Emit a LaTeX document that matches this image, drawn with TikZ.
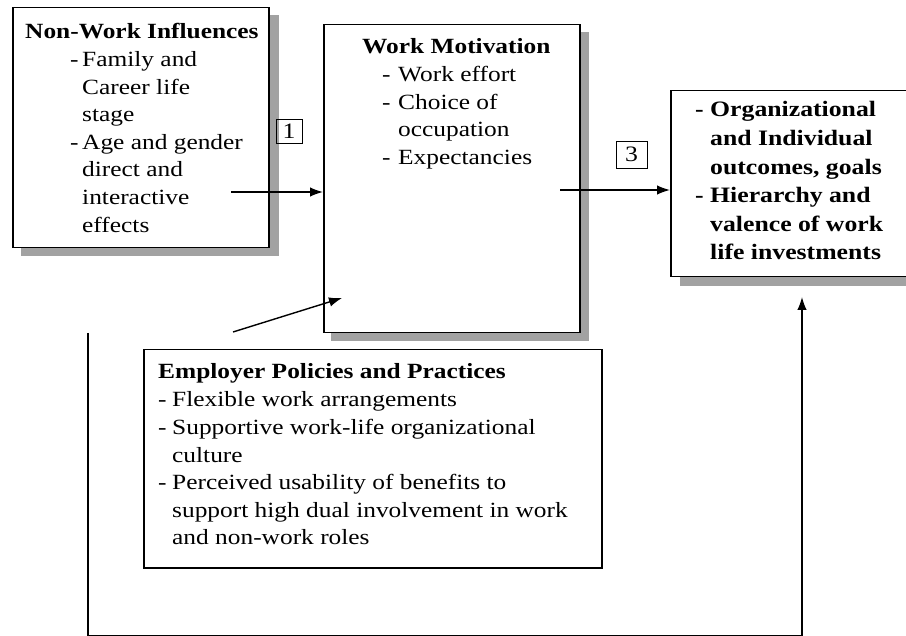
\documentclass[tikz,border=0pt]{standalone}
\usepackage{fontspec}
\setmainfont{Liberation Serif}[FakeStretch=1.17]
\usetikzlibrary{arrows.meta}
\definecolor{shd}{HTML}{A2A2A2}
\newcommand{\mydash}[1]{\makebox[#1][l]{-}}
\newcommand{\myind}[1]{\hspace*{#1}}
\begin{document}
\begin{tikzpicture}[x=1pt,y=-1pt,
  box/.style={draw, line width=1.5pt, fill=white, inner sep=0pt, anchor=north west},
  lbl/.style={draw, line width=0.9pt, inner sep=0pt, font=\fontsize{22}{26}\selectfont},
  txt/.style={anchor=base west, inner sep=0pt, font=\fontsize{21.7}{27.6}\selectfont},
  conn/.style={line width=1.4pt, -{Latex[length=13pt,width=9.5pt]}},
]
\path[use as bounding box] (0,0) rectangle (906,636);
\clip (0,0) rectangle (906,636);

% boxes with shadows
\node[box, minimum width=256pt, minimum height=240pt] (nw) at (12,7) {};
\fill[shd] ([xshift=9pt,yshift=-8pt]nw.south west) rectangle ([xshift=9pt,yshift=-8pt]nw.north east);
\node[box, minimum width=256pt, minimum height=240pt] at (12,7) {};

\node[box, minimum width=256pt, minimum height=308pt] (wm) at (323,24) {};
\fill[shd] ([xshift=8pt,yshift=-8pt]wm.south west) rectangle ([xshift=8pt,yshift=-8pt]wm.north east);
\node[box, minimum width=256pt, minimum height=308pt] at (323,24) {};

\node[box, minimum width=250pt, minimum height=186pt] (rb) at (670,90) {};
\fill[shd] ([xshift=10pt,yshift=-9pt]rb.south west) rectangle ([xshift=10pt,yshift=-9pt]rb.north east);
\node[box, minimum width=250pt, minimum height=186pt] at (670,90) {};

\node[box, minimum width=458pt, minimum height=218pt] (ep) at (143,349) {};

% texts
\node[txt] (nwT) at (25,39) {\textbf{Non-Work Influences}};
\node[txt] (nwI) at (70,66.5) {\parbox[t]{300pt}{\raggedright
\mydash{12pt}Family and\\
\myind{12pt}Career life\\
\myind{12pt}stage\\
\mydash{12pt}Age and gender\\
\myind{12pt}direct and\\
\myind{12pt}interactive\\
\myind{12pt}effects}};

\node[txt] (wmT) at (362,54) {\textbf{Work Motivation}};
\node[txt] (wmI) at (382,81.5) {\parbox[t]{300pt}{\raggedright
\mydash{16pt}Work effort\\
\mydash{16pt}Choice of\\
\myind{16pt}occupation\\
\mydash{16pt}Expectancies}};

\node[txt, font=\fontsize{22}{28.6}\selectfont\bfseries] (rbI) at (695,117) {\parbox[t]{300pt}{\raggedright
\mydash{15pt}Organizational\\
\myind{15pt}and Individual\\
\myind{15pt}outcomes, goals\\
\mydash{15pt}Hierarchy and\\
\myind{15pt}valence of work\\
\myind{15pt}life investments}};

\node[txt] (epT) at (158,379) {\textbf{Employer Policies and Practices}};
\node[txt] (epI) at (158,407) {\parbox[t]{500pt}{\raggedright
\mydash{14pt}Flexible work arrangements\\
\mydash{14pt}Supportive work-life organizational\\
\myind{14pt}culture\\
\mydash{14pt}Perceived usability of benefits to\\
\myind{14pt}support high dual involvement in work\\
\myind{14pt}and non-work roles}};

% labels
\node[lbl, minimum width=26pt, minimum height=24pt] (l1) at (289,131) {1};
\node[lbl, minimum width=31pt, minimum height=27pt] (l3) at (631.5,154.5) {3};

% connectors
\coordinate (a1s) at (231,192);
\draw[conn] (a1s) -- (a1s -| wm.west);
\coordinate (a3s) at (560,190);
\draw[conn] (a3s) -- (a3s -| rb.west);
\coordinate (a2s) at (233,332);
\coordinate (a2e) at (342,298);
\draw[conn] (a2s) -- (a2e);
\coordinate (fbs) at (88,333);
\coordinate (fbb) at (0,635.5);
\coordinate (fbe) at (802,297);
\draw[conn] (fbs) -- (fbs |- fbb) -| (fbe);
\end{tikzpicture}
\end{document}
